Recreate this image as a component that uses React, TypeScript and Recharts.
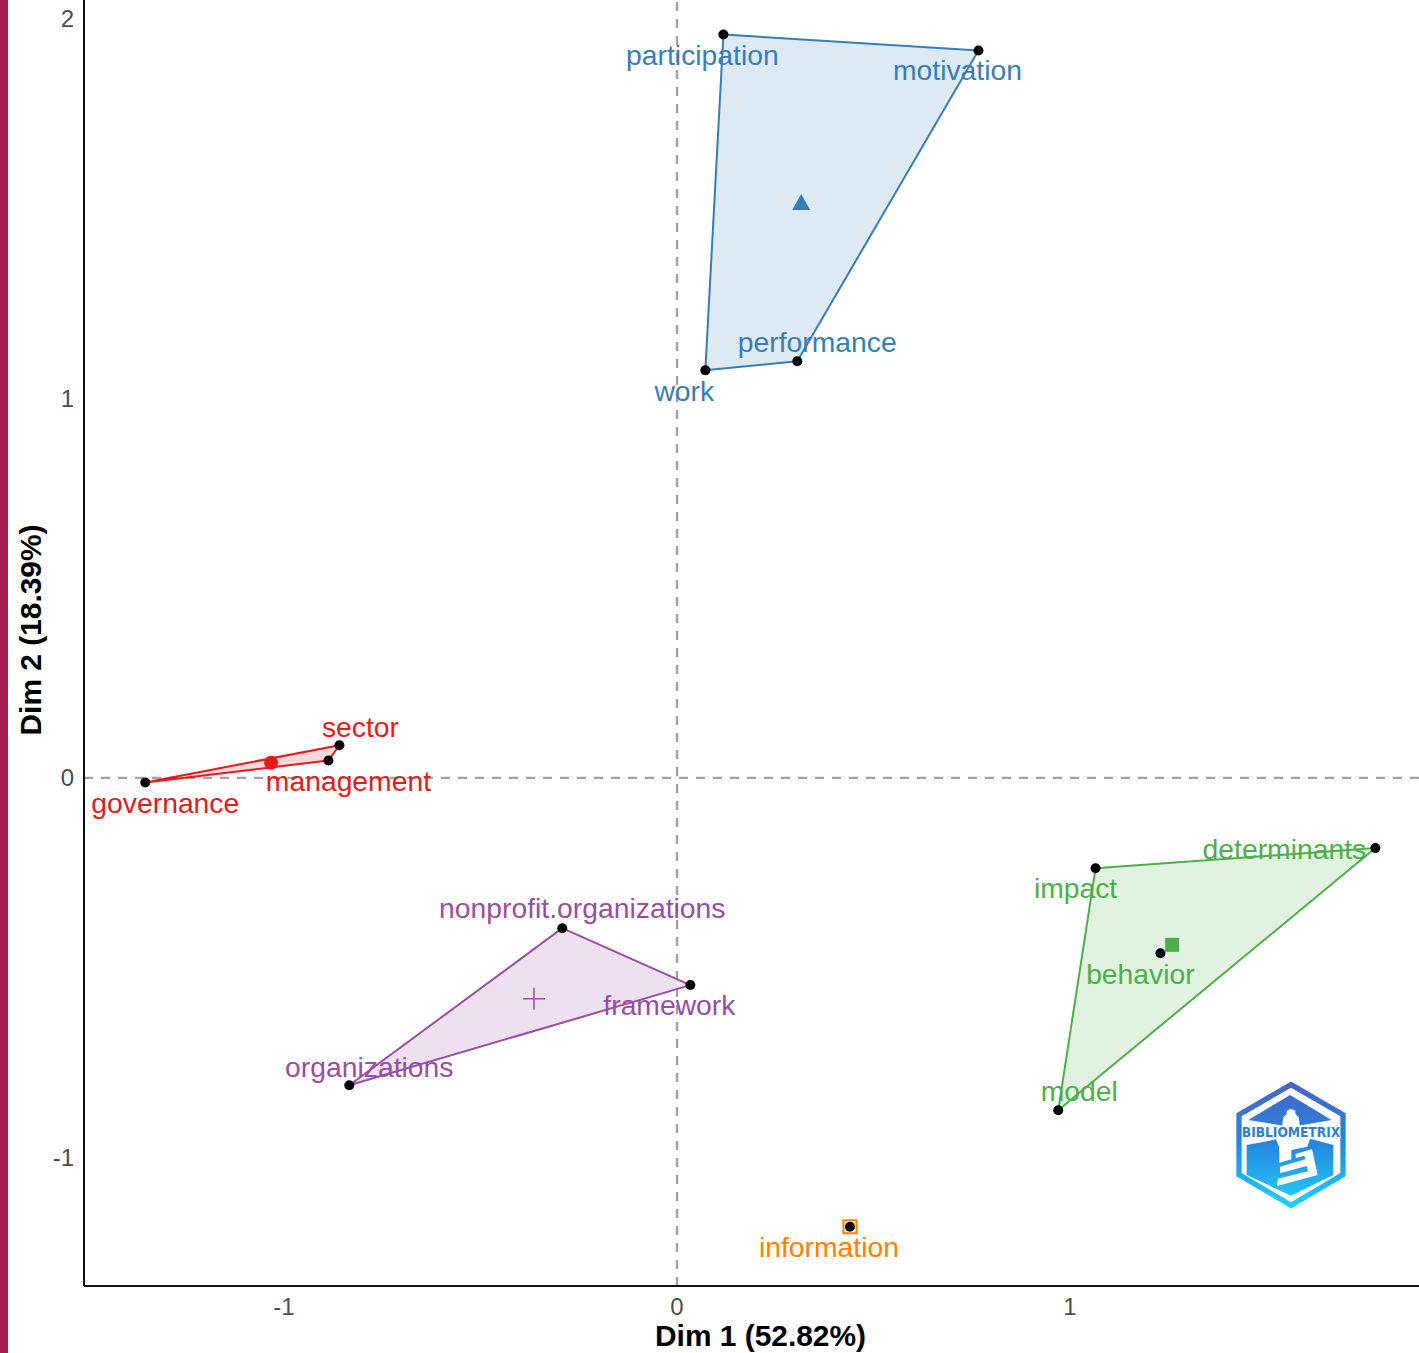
import React from 'react'
import { ComposedChart, Scatter, XAxis, YAxis, ReferenceLine } from 'recharts'

// words and coordinates per cluster
const BLUE_WORDS = ['participation', 'motivation', 'performance', 'work']
const BLUE_DIM1 = [0.118, 0.767, 0.306, 0.072]
const BLUE_DIM2 = [1.959, 1.917, 1.098, 1.074]
const BLUE_CENTER = [0.316, 1.515]

const RED_WORDS = ['governance', 'sector', 'management']
const RED_DIM1 = [-1.353, -0.859, -0.887]
const RED_DIM2 = [-0.012, 0.086, 0.046]
const RED_CENTER = [-1.033, 0.04]

const PURPLE_WORDS = ['nonprofit.organizations', 'framework', 'organizations']
const PURPLE_DIM1 = [-0.292, 0.034, -0.834]
const PURPLE_DIM2 = [-0.396, -0.546, -0.81]
const PURPLE_CENTER = [-0.364, -0.582]

// behavior sits inside the hull, so it comes last and is left out of the polygon
const GREEN_WORDS = ['determinants', 'model', 'impact', 'behavior']
const GREEN_DIM1 = [1.777, 0.97, 1.065, 1.23]
const GREEN_DIM2 = [-0.185, -0.876, -0.238, -0.462]
const GREEN_CENTER = [1.26, -0.44]
const GREEN_HULL = 3

const ORANGE_WORDS = ['information']
const ORANGE_DIM1 = [0.44]
const ORANGE_DIM2 = [-1.183]
const ORANGE_CENTER = [0.44, -1.183]

const X_TICKS = [-1, 0, 1]
const Y_TICKS = [-1, 0, 1, 2]

const BLUE = '#377EB8'
const RED = '#E41A1C'
const PURPLE = '#984EA3'
const GREEN = '#4DAF4A'
const ORANGE = '#FF7F00'

// where each label goes relative to its point, in pixels
const LABEL_OFFSET: Record<string, [number, number]> = {
  participation: [-21, 20],
  motivation: [-21, 20],
  performance: [20, -19],
  work: [-21, 21],
  sector: [21, -18],
  management: [20, 21],
  governance: [20, 21],
  'nonprofit.organizations': [20, -20],
  framework: [-21, 20],
  organizations: [20, -18],
  determinants: [-91, 1],
  impact: [-20, 20],
  behavior: [-20, 21],
  model: [21, -19],
  information: [-21, 20],
}

const toPoints = (words: string[], xs: number[], ys: number[]) =>
  words.map((word, i) => ({ word, x: xs[i], y: ys[i] }))

const clusters = [
  { color: BLUE, kind: 'triangle', center: BLUE_CENTER, points: toPoints(BLUE_WORDS, BLUE_DIM1, BLUE_DIM2) },
  { color: RED, kind: 'circle', center: RED_CENTER, points: toPoints(RED_WORDS, RED_DIM1, RED_DIM2) },
  { color: PURPLE, kind: 'plus', center: PURPLE_CENTER, points: toPoints(PURPLE_WORDS, PURPLE_DIM1, PURPLE_DIM2) },
  {
    color: GREEN,
    kind: 'square',
    center: GREEN_CENTER,
    hull: GREEN_HULL,
    points: toPoints(GREEN_WORDS, GREEN_DIM1, GREEN_DIM2),
  },
  { color: ORANGE, kind: 'open', center: ORANGE_CENTER, points: toPoints(ORANGE_WORDS, ORANGE_DIM1, ORANGE_DIM2) },
]

const Hull = (color: string) => (props: any) => {
  const pts = (props.points || []).map((p: any) => `${p.x},${p.y}`).join(' ')
  return <polygon points={pts} fill={color} fillOpacity={0.17} stroke={color} strokeWidth={2} strokeLinejoin="round" />
}

const CenterMark = (color: string, kind: string) => (props: any) => {
  const { cx, cy } = props
  if (kind === 'triangle')
    return <polygon points={`${cx},${cy - 9} ${cx + 9},${cy + 7} ${cx - 9},${cy + 7}`} fill={color} />
  if (kind === 'circle') return <circle cx={cx} cy={cy} r={7} fill={color} />
  if (kind === 'square') return <rect x={cx - 7} y={cy - 7} width={14} height={14} fill={color} />
  if (kind === 'open')
    return <rect x={cx - 6.5} y={cy - 6.5} width={13} height={13} fill="none" stroke={color} strokeWidth={2} />
  return <path d={`M${cx - 11} ${cy}H${cx + 11}M${cx} ${cy - 11}V${cy + 11}`} stroke={color} strokeWidth={1.5} fill="none" />
}

const WordMark = (color: string) => (props: any) => {
  const { cx, cy, payload } = props
  const [dx, dy] = LABEL_OFFSET[payload.word]
  return (
    <g>
      <circle cx={cx} cy={cy} r={5} fill="#000" />
      <text
        x={cx + dx}
        y={cy + dy}
        fill={color}
        fontSize={28.3}
        fontFamily="Liberation Sans"
        textAnchor="middle"
        dominantBaseline="central"
      >
        {payload.word}
      </text>
    </g>
  )
}

function Logo() {
  return (
    <svg
      width={180}
      height={170}
      viewBox="0 0 540 510"
      style={{ position: 'absolute', left: 1200, top: 1060 }}
    >
      <defs>
        <linearGradient id="logoFill" gradientUnits="userSpaceOnUse" x1="0" y1="65" x2="0" y2="445">
          <stop offset="0" stopColor="#4a62c4" />
          <stop offset="0.5" stopColor="#2588e0" />
          <stop offset="1" stopColor="#20d4fb" />
        </linearGradient>
      </defs>
      <polygon
        points="273,74 429,164 429,344 273,436 117,344 117,164"
        fill="none"
        stroke="url(#logoFill)"
        strokeWidth={16}
      />
      <polygon points="270,105 395,180 295,197 250,197 145,180" fill="url(#logoFill)" />
      <polygon points="140,255 230,238 325,235 400,255 400,345 273,407 140,345" fill="url(#logoFill)" />
      <path d="M246 200 L250 172 L260 162 L260 152 L273 146 L286 152 L286 162 L296 172 L300 200 Z" fill="#fff" />
      <polygon points="228,238 332,232 322,260 274,270 274,298 238,308 238,262" fill="#fff" />
      <polygon
        points="286,282 336,268 353,345 231,378 234,356 324,334 320,318 240,340 240,320 316,298 313,287 288,294"
        fill="#fff"
      />
      <text
        x={273}
        y={230}
        textAnchor="middle"
        textLength={295}
        lengthAdjust="spacingAndGlyphs"
        fontFamily="DejaVu Sans"
        fontWeight="bold"
        fontSize={44}
        fill="#2b7fd8"
        stroke="#fff"
        strokeWidth={4}
        paintOrder="stroke"
      >
        BIBLIOMETRIX
      </text>
    </svg>
  )
}

export default function App() {
  return (
    <div style={{ position: 'absolute', left: 0, top: 0, width: 1419, height: 1353, background: '#fff', overflow: 'hidden' }}>
      <ComposedChart width={1419} height={1353} margin={{ top: 0, right: 0, bottom: 0, left: 0 }}>
        <XAxis
          type="number"
          dataKey="x"
          domain={[-1.509, 1.888]}
          ticks={X_TICKS}
          allowDataOverflow
          height={67}
          tickLine={false}
          tickMargin={6}
          axisLine={{ stroke: '#111', strokeWidth: 2 }}
          tick={{ fill: '#4d4d4d', fontSize: 24, fontFamily: 'Liberation Sans' }}
          label={{
            value: 'Dim 1 (52.82%)',
            position: 'insideBottom',
            dx: 9,
            dy: -2,
            style: { fontSize: 29.9, fontWeight: 'bold', fill: '#000', fontFamily: 'Liberation Sans' },
          }}
        />
        <YAxis
          type="number"
          dataKey="y"
          domain={[-1.339, 2.05]}
          ticks={Y_TICKS}
          allowDataOverflow
          width={84}
          tickLine={false}
          tickMargin={4}
          axisLine={{ stroke: '#111', strokeWidth: 2 }}
          tick={{ fill: '#4d4d4d', fontSize: 24, fontFamily: 'Liberation Sans' }}
          label={{
            value: 'Dim 2 (18.39%)',
            angle: -90,
            position: 'insideLeft',
            dx: 25,
            dy: -13,
            style: { fontSize: 29.9, fontWeight: 'bold', fill: '#000', fontFamily: 'Liberation Sans', textAnchor: 'middle' },
          }}
        />
        <ReferenceLine x={0} stroke="#a3a3a3" strokeWidth={2.4} strokeDasharray="9 8" />
        <ReferenceLine y={0} stroke="#a3a3a3" strokeWidth={2.4} strokeDasharray="9 8" />
        {clusters
          .filter(c => c.points.length > 1)
          .map(c => (
            <Scatter
              key={`hull-${c.color}`}
              data={c.points.slice(0, c.hull ?? c.points.length)}
              line={Hull(c.color)}
              shape={() => <g />}
              isAnimationActive={false}
            />
          ))}
        {clusters.map(c => (
          <Scatter
            key={`center-${c.color}`}
            data={[{ x: c.center[0], y: c.center[1] }]}
            shape={CenterMark(c.color, c.kind)}
            isAnimationActive={false}
          />
        ))}
        {clusters.map(c => (
          <Scatter
            key={`words-${c.color}`}
            data={c.points}
            shape={WordMark(c.color)}
            isAnimationActive={false}
          />
        ))}
      </ComposedChart>
      <div style={{ position: 'absolute', left: 0, top: 0, width: 8, height: 1353, background: '#A61C4E' }} />
      <Logo />
    </div>
  )
}
